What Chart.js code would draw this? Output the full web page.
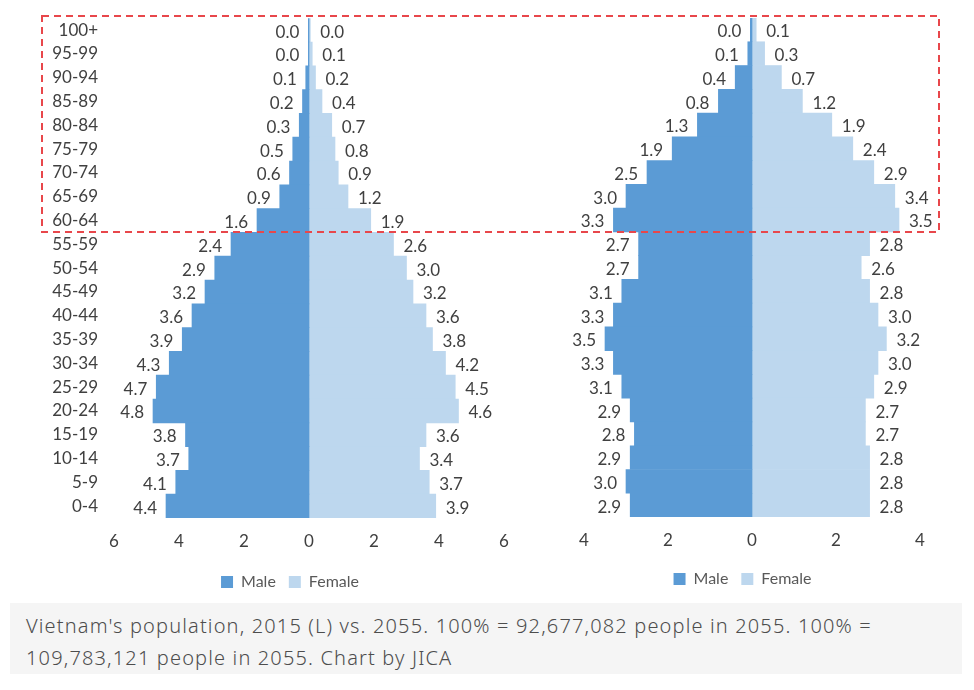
<!DOCTYPE html>
<html>
<head>
<meta charset="utf-8">
<script src="https://cdn.jsdelivr.net/npm/chart.js@4.4.1/dist/chart.umd.min.js"></script>
<style>
  body { margin: 0; background: #fff; }
  .box { position: absolute; }
  #leftBox { left: 0; top: 0; width: 580px; height: 600px; }
  #rightBox { left: 520px; top: 0; width: 445px; height: 597px; }
  #frame { position: absolute; left: 0; top: 0; pointer-events: none; }
  #caption {
    position: absolute; left: 10px; top: 603px; width: 952px; height: 71px;
    background: #f5f5f5; box-sizing: border-box; padding: 7px 0 0 16px;
    font-family: "Noto Sans", sans-serif; font-weight: 300; font-size: 20px; letter-spacing: 1.15px;
    line-height: 32px; color: #4d4d4d;
  }
</style>
</head>
<body>
<div class="box" id="leftBox"><canvas id="chart2015"></canvas></div>
<div class="box" id="rightBox"><canvas id="chart2055"></canvas></div>
<svg id="frame" width="974" height="600">
  <rect x="42" y="16" width="897" height="216" fill="none" stroke="#e8474b" stroke-width="2" stroke-dasharray="7 5"/>
</svg>
<div id="caption">Vietnam's population, 2015 (L) vs. 2055. 100% = 92,677,082 people in 2055. 100% =<br>109,783,121 people in 2055. Chart by JICA</div>
<script>
const ages = ["100+", "95-99", "90-94", "85-89", "80-84", "75-79", "70-74", "65-69", "60-64",
  "55-59", "50-54", "45-49", "40-44", "35-39", "30-34", "25-29", "20-24", "15-19", "10-14", "5-9", "0-4"];

// 2015, % of population
const male2015 = [0.02, 0.02, 0.1, 0.2, 0.3, 0.5, 0.6, 0.9, 1.6, 2.4, 2.9, 3.2, 3.6, 3.9, 4.3, 4.7, 4.8, 3.8, 3.7, 4.1, 4.4];
const female2015 = [0.04, 0.1, 0.2, 0.4, 0.7, 0.8, 0.9, 1.2, 1.9, 2.6, 3.0, 3.2, 3.6, 3.8, 4.2, 4.5, 4.6, 3.6, 3.4, 3.7, 3.9];

// 2055
const male2055 = [0.04, 0.1, 0.4, 0.8, 1.3, 1.9, 2.5, 3.0, 3.3, 2.7, 2.7, 3.1, 3.3, 3.5, 3.3, 3.1, 2.9, 2.8, 2.9, 3.0, 2.9];
const female2055 = [0.1, 0.3, 0.7, 1.2, 1.9, 2.4, 2.9, 3.4, 3.5, 2.8, 2.6, 2.8, 3.0, 3.2, 3.0, 2.9, 2.7, 2.7, 2.8, 2.8, 2.8];

const maleColor = "#5b9bd5";
const femaleColor = "#bdd7ee";
const textColor = "#404040";
const fontFamily = "Lato, 'Open Sans', sans-serif";

// draws the numbers at the end of each bar
const valueLabels = {
  id: "valueLabels",
  afterDatasetsDraw(chart) {
    const ctx = chart.ctx;
    ctx.save();
    ctx.font = "17px " + fontFamily;
    ctx.fillStyle = textColor;
    ctx.textBaseline = "middle";
    chart.data.datasets.forEach((ds, i) => {
      const meta = chart.getDatasetMeta(i);
      meta.data.forEach((bar, j) => {
        const v = ds.data[j];
        const txt = Math.abs(v).toFixed(1);
        if (v < 0) {
          ctx.textAlign = "right";
          ctx.fillText(txt, bar.x - 9, bar.y + 2);
        } else {
          ctx.textAlign = "left";
          ctx.fillText(txt, bar.x + 10, bar.y + 2);
        }
      });
    });
    ctx.restore();
  }
};

const makePyramid = (canvasId, males, females, opts) => {
  const data = {
    labels: ages,
    datasets: [
      {
        label: "Male",
        data: males.map((v) => -v),
        backgroundColor: maleColor,
        borderWidth: 0,
        barPercentage: 1,
        categoryPercentage: 1,
      },
      {
        label: "Female",
        data: females,
        backgroundColor: femaleColor,
        borderWidth: 0,
        barPercentage: 1,
        categoryPercentage: 1,
      },
    ],
  };

  const config = {
    type: "bar",
    data: data,
    options: {
      indexAxis: "y",
      responsive: true,
      maintainAspectRatio: false,
      animation: false,
      layout: { padding: { top: opts.top, left: 0, right: 0, bottom: 0 } },
      scales: {
        x: {
          stacked: true,
          min: -opts.max,
          max: opts.max,
          grid: { display: false },
          border: { display: false },
          ticks: {
            stepSize: 2,
            padding: 5,
            color: textColor,
            font: { family: fontFamily, size: 17 },
            callback: (v) => Math.abs(v),
          },
          afterFit: (scale) => { scale.height = opts.xHeight; },
        },
        y: {
          stacked: true,
          grid: { display: false },
          border: { display: false },
          ticks: {
            display: opts.showAges,
            padding: 8,
            color: textColor,
            font: { family: fontFamily, size: 17 },
          },
          afterFit: (scale) => { scale.width = opts.leftWidth; },
        },
        // empty axis, only keeps space on the right
        yRight: {
          position: "right",
          grid: { display: false },
          border: { display: false },
          ticks: { display: false },
          afterFit: (scale) => { scale.width = opts.rightWidth; },
        },
      },
      plugins: {
        legend: {
          position: "bottom",
          labels: {
            boxWidth: 12,
            boxHeight: 12,
            padding: 13,
            color: "#595959",
            font: { family: fontFamily, size: 16 },
          },
        },
        tooltip: { enabled: false },
      },
    },
    plugins: [valueLabels],
  };

  return new Chart(document.getElementById(canvasId), config);
};

makePyramid("chart2015", male2015, female2015, {
  max: 6, top: 14, xHeight: 43, leftWidth: 114, rightWidth: 76, showAges: true,
});
makePyramid("chart2055", male2055, female2055, {
  max: 4, top: 18, xHeight: 41, leftWidth: 64, rightWidth: 45, showAges: false,
});
</script>
</body>
</html>
